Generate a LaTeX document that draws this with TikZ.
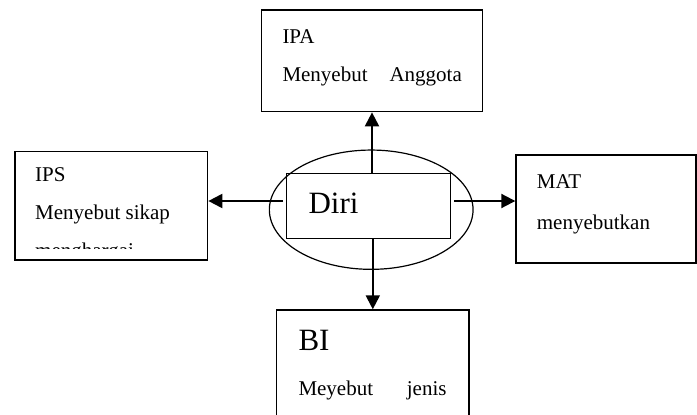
\documentclass[tikz,border=0pt]{standalone}
\usepackage{fontspec}
\setmainfont{Liberation Serif}
\usetikzlibrary{arrows.meta,shapes.geometric}
\begin{document}
\begin{tikzpicture}[x=1pt,y=-1pt,
    box/.style={draw=black,line width=1.4pt,inner sep=0pt},
    smalltext/.style={anchor=base west,inner sep=0pt,
                      font=\fontsize{21}{25}\selectfont},
    bigtext/.style={anchor=base west,inner sep=0pt,
                    font=\fontsize{31}{37}\selectfont},
    link/.style={-{Triangle[length=14pt,width=14pt]},line width=2pt}
  ]
    \clip (0,0) rectangle (697,415);

    \node[box,minimum width=220.6pt,minimum height=101.7pt] (ipa) at (372,60.8) {};
    \node[box,minimum width=192.7pt,minimum height=108.3pt] (ips) at (111.3,205.8) {};
    \node[box,minimum width=180pt,minimum height=108pt] (mat) at (606,209) {};
    \node[box,minimum width=192.3pt,minimum height=110pt] (bi) at (372.8,365) {};
    \node[draw,line width=1.2pt,ellipse,inner sep=0pt,
          minimum width=203.7pt,minimum height=119.3pt] (pusat) at (371.2,209.7) {};
    \node[box,minimum width=164pt,minimum height=65pt] (diri) at (368.7,205.8) {};

    \node[smalltext] (ipa1) at (282.3,43.3) {IPA};
    \node[smalltext] (ipa2) at (282.3,81.7) {Menyebut};
    \node[smalltext] (ipa3) at (389.3,81.7) {Anggota};

    \node[smalltext] (ips1) at (35,181.7) {IPS};
    \node[smalltext] (ips2) at (35,219.3) {Menyebut sikap};
    \begin{scope}
      \clip (15,150) rectangle (208,248.5);
      \node[smalltext] (ips3) at (35,257) {menghargai};
    \end{scope}

    \node[smalltext] (mat1) at (536.7,188.3) {MAT};
    \node[smalltext] (mat2) at (536.7,229.3) {menyebutkan};

    \node[bigtext] (diri1) at (308.3,213.3) {Diri};

    \node[bigtext] (bi1) at (298.3,350) {BI};
    \node[smalltext] (bi2) at (298.3,395) {Meyebut};
    \node[smalltext] (bi3) at (406.7,395) {jenis};

    \draw[link] (diri.north -| ipa.south) -- (ipa.south);
    \draw[link] (diri.south -| bi.north) -- (bi.north);
    \draw[link,shorten <=3pt] ([yshift=4.8pt]diri.west) -- ([yshift=4.8pt]diri.west -| ips.east);
    \draw[link,shorten <=3pt] ([yshift=4.8pt]diri.east) -- ([yshift=4.8pt]diri.east -| mat.west);
  \end{tikzpicture}
\end{document}
